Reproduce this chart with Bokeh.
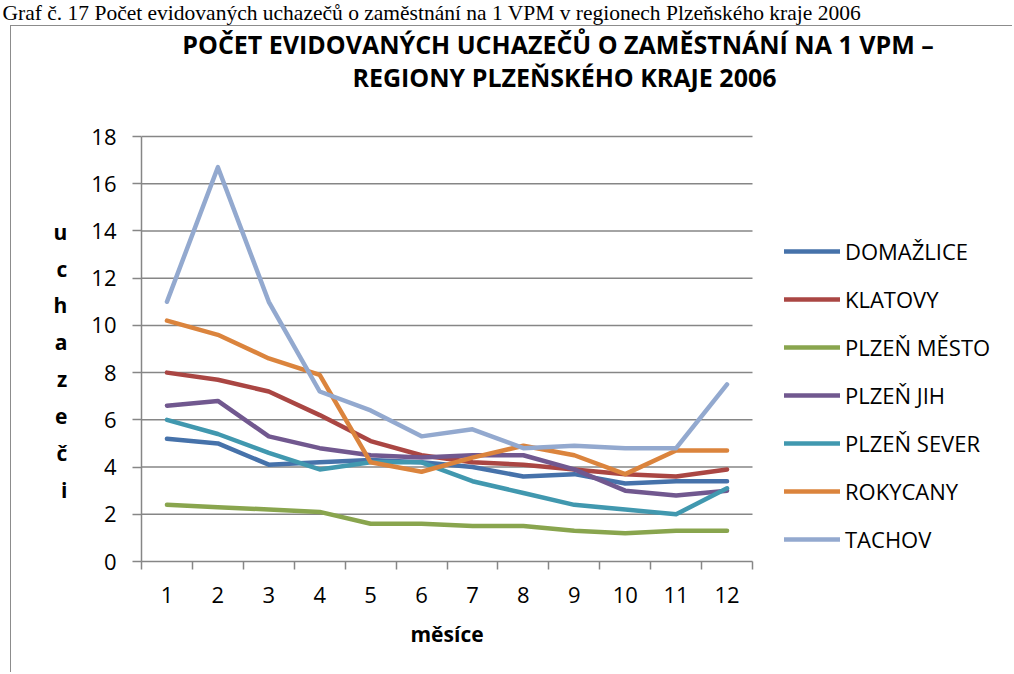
from bokeh.plotting import figure
from bokeh.models import (Legend, LegendItem, Title, Label, FixedTicker,
                          Range1d, ColumnDataSource)
from bokeh.embed import file_html
from bokeh.resources import INLINE

months = [1, 2, 3, 4, 5, 6, 7, 8, 9, 10, 11, 12]
month_labels = ["1", "2", "3", "4", "5", "6", "7", "8", "9", "10", "11", "12"]
y_ticks = [0, 2, 4, 6, 8, 10, 12, 14, 16, 18]

regions = ["DOMAŽLICE", "KLATOVY", "PLZEŇ MĚSTO", "PLZEŇ JIH", "PLZEŇ SEVER", "ROKYCANY", "TACHOV"]
domazlice = [5.2, 5.0, 4.1, 4.2, 4.3, 4.2, 4.0, 3.6, 3.7, 3.3, 3.4, 3.4]
klatovy = [8.0, 7.7, 7.2, 6.2, 5.1, 4.5, 4.2, 4.1, 3.9, 3.7, 3.6, 3.9]
plzen_mesto = [2.4, 2.3, 2.2, 2.1, 1.6, 1.6, 1.5, 1.5, 1.3, 1.2, 1.3, 1.3]
plzen_jih = [6.6, 6.8, 5.3, 4.8, 4.5, 4.4, 4.5, 4.5, 3.9, 3.0, 2.8, 3.0]
plzen_sever = [6.0, 5.4, 4.6, 3.9, 4.2, 4.2, 3.4, 2.9, 2.4, 2.2, 2.0, 3.1]
rokycany = [10.2, 9.6, 8.6, 7.9, 4.2, 3.8, 4.4, 4.9, 4.5, 3.7, 4.7, 4.7]
tachov = [11.0, 16.7, 11.0, 7.2, 6.4, 5.3, 5.6, 4.8, 4.9, 4.8, 4.8, 7.5]
series = [domazlice, klatovy, plzen_mesto, plzen_jih, plzen_sever, rokycany, tachov]
colors = ["#4672AA", "#AA4643", "#89A54E", "#71588F", "#4198AF", "#DB843D", "#93A9CF"]

caption = "Graf č. 17 Počet evidovaných uchazečů o zaměstnání na 1 VPM v regionech Plzeňského kraje 2006"
title_lines = ["POČET  EVIDOVANÝCH UCHAZEČŮ O ZAMĚSTNÁNÍ  NA 1 VPM –",
               "REGIONY PLZEŇSKÉHO KRAJE 2006"]
x_title = "měsíce"
y_letters = ["u", "c", "h", "a", "z", "e", "č", "i"]

# ---------- geometry (page pixels) ----------
W, H = 1012, 672
AX_L, AX_R, AX_T, AX_B = 141, 752, 136, 561      # plotted area (0.5..12.5 x 0..18)
FRAME_T = 12                                      # drawing frame reaches up to here
BORDER_Y = 25
BORDER_COL = "#8c8c8c"
font = "Open Sans"
grid_col = "#868686"

px_x = (AX_R - AX_L) / 12.0
px_y = (AX_B - AX_T) / 18.0
x_end = 0.5 + (W - AX_L) / px_x
y_end = (AX_B - FRAME_T) / px_y

p = figure(width=W, height=H, output_backend="svg", toolbar_location=None, title=None,
           x_range=Range1d(0.5, x_end), y_range=Range1d(0, y_end),
           min_border_left=AX_L, min_border_right=0,
           min_border_top=FRAME_T, min_border_bottom=H - AX_B)
p.outline_line_color = None
p.background_fill_color = None
p.border_fill_color = None
# chart box (thin grey border to the right of / below the caption)
p.styles = {
    "background": ("linear-gradient({c},{c}) 10px {y}px / 1px 100% no-repeat, "
                   "linear-gradient({c},{c}) 10px {y}px / 100% 1px no-repeat, white"
                   ).format(c=BORDER_COL, y=BORDER_Y)
}

# ---------- axes ----------
p.xaxis.bounds = (0.5, 12.5)
p.xaxis.ticker = FixedTicker(ticks=months, minor_ticks=[m - 0.5 for m in months] + [12.5])
p.xaxis.major_label_overrides = {m: l for m, l in zip(months, month_labels)}
p.xaxis.major_tick_out = 0
p.xaxis.major_tick_in = 0
p.xaxis.minor_tick_out = 8
p.xaxis.minor_tick_in = 0
p.xaxis.minor_tick_line_color = grid_col
p.xaxis.minor_tick_line_width = 1.5
p.xaxis.axis_line_color = grid_col
p.xaxis.axis_line_width = 1.5
p.xaxis.major_label_text_font = font
p.xaxis.major_label_text_font_size = "22px"
p.xaxis.major_label_text_color = "black"
p.xaxis.major_label_standoff = 17

# x-axis title, centred under the twelve months
p.add_layout(Title(text=x_title, align="left", offset=269, vertical_align="top",
                   standoff=29, text_font=font, text_font_style="bold",
                   text_font_size="21px", text_color="black"), "below")

p.yaxis.bounds = (0, 18)
p.yaxis.ticker = FixedTicker(ticks=y_ticks, minor_ticks=[])
p.yaxis.major_tick_out = 9
p.yaxis.major_tick_in = 0
p.yaxis.major_tick_line_color = grid_col
p.yaxis.major_tick_line_width = 1.5
p.yaxis.axis_line_color = grid_col
p.yaxis.axis_line_width = 1.5
p.yaxis.major_label_text_font = font
p.yaxis.major_label_text_font_size = "22px"
p.yaxis.major_label_text_color = "black"
p.yaxis.major_label_standoff = 16
# stacked letters; the label is centred on the whole drawing frame, so empty
# leading lines move the letters down to the middle of the 0..18 axis
p.yaxis.axis_label = "\n" * 4 + "\n".join(y_letters)
p.yaxis.axis_label_orientation = "horizontal"
p.yaxis.axis_label_text_font = font
p.yaxis.axis_label_text_font_style = "bold"
p.yaxis.axis_label_text_font_size = "21px"
p.yaxis.axis_label_text_color = "black"
p.yaxis.axis_label_text_line_height = 1.32
p.yaxis.axis_label_standoff = 21

p.xgrid.visible = False
p.ygrid.visible = False

# horizontal grid lines over the plotted months only
grid_y = y_ticks[1:]
grid_src = ColumnDataSource(dict(x0=[0.5] * len(grid_y), x1=[12.5] * len(grid_y), y=grid_y))
p.segment(x0="x0", y0="y", x1="x1", y1="y", source=grid_src,
          line_color=grid_col, line_width=1.5)

# ---------- series ----------
items = []
for name, vals, col in zip(regions, series, colors):
    src = ColumnDataSource(dict(x=months, y=vals))
    r = p.line("x", "y", source=src, line_color=col, line_width=4.5,
               line_cap="round", line_join="round")
    items.append(LegendItem(label=name, renderers=[r]))

ROW_H, ROW_GAP = 30, 18
legend = Legend(items=items, location=(784 - AX_L, AX_B - 554),
                glyph_width=56, glyph_height=ROW_H, label_height=ROW_H, spacing=ROW_GAP,
                label_standoff=5, padding=0, margin=0,
                label_text_font=font, label_text_font_size="22px", label_text_color="black",
                border_line_alpha=0, background_fill_alpha=0)
p.add_layout(legend, "center")

# ---------- chart title (two centred lines) ----------
for line, base in zip(title_lines, [43, 76]):
    p.add_layout(Label(x=564 - AX_L, y=AX_B - base, x_units="screen", y_units="screen",
                       text=line, text_align="center", text_baseline="alphabetic",
                       text_font=font, text_font_style="bold", text_font_size="25px",
                       text_color="black"))

# ---------- caption above the chart box ----------
p.add_layout(Title(text=caption, align="left", offset=2 - AX_L, vertical_align="bottom",
                   standoff=-24, text_font="Liberation Serif", text_font_style="normal",
                   text_font_size="21.5px", text_color="black"), "above")

open("out.html", "w").write(file_html(p, INLINE))
